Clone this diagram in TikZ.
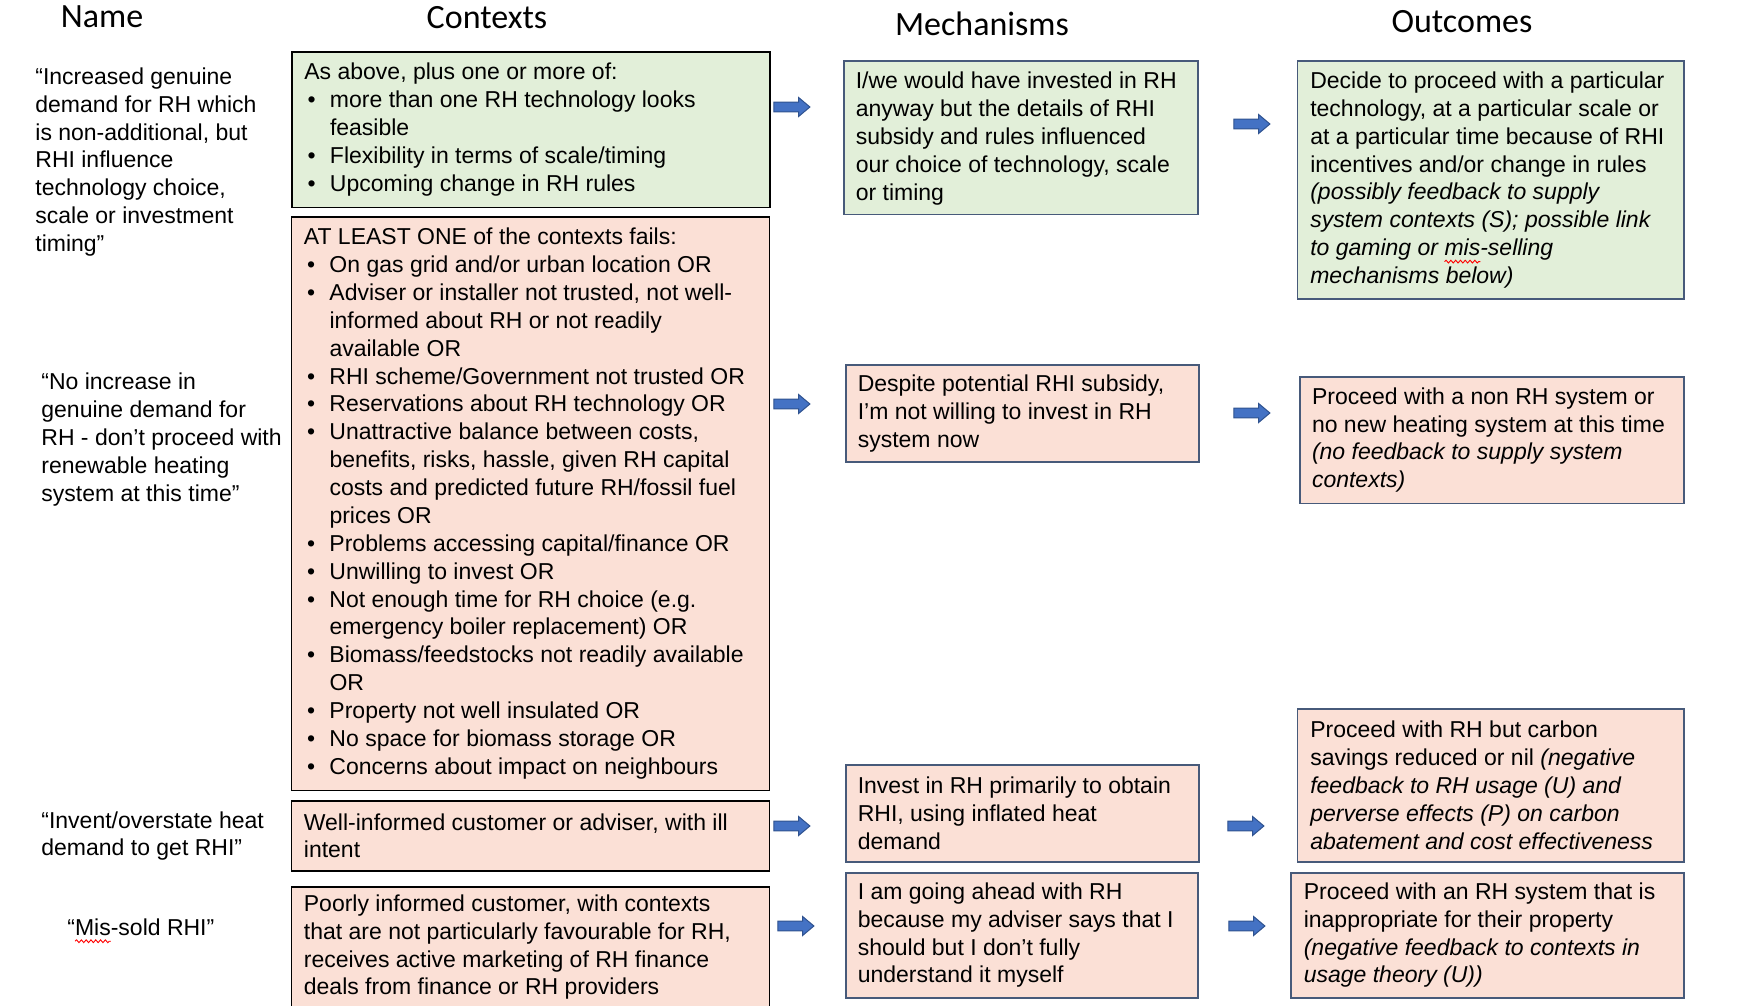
\documentclass[tikz,border=0pt]{standalone}
\usepackage{fontspec}
\setmainfont{Liberation Sans}
\newfontfamily\hdfont{Carlito}
\usetikzlibrary{shapes.arrows,decorations.pathmorphing}
\definecolor{gfill}{HTML}{E2EFD9}
\definecolor{pfill}{HTML}{FBE0D6}
\definecolor{slate}{HTML}{475A7A}
\definecolor{arrblue}{HTML}{4472C4}
\definecolor{arrdark}{HTML}{2F528F}
\newlength\wavelen
\newcommand\redwave[1]{\settowidth\wavelen{#1}\rlap{\tikz[overlay,x=1pt,y=1pt,baseline=0pt]\draw[red,line width=0.45pt,decorate,decoration={snake,amplitude=0.7pt,segment length=2.4pt}] (0pt,-3pt) -- (\wavelen,-3pt);}#1}
\newcommand\bodyfont{\fontsize{11.5}{13.93}\selectfont}
\newcommand\bl[1]{\makebox[12.8pt][l]{\hspace{1.6pt}•}#1}
\newcommand\ind{\hspace*{12.8pt}}
\tikzset{
  hd/.style={font=\hdfont\fontsize{17}{20}\selectfont, inner sep=0pt},
  boxbase/.style={anchor=north west, inner sep=0pt, line width=0.75pt},
  ctxg/.style={boxbase, draw=black, fill=gfill},
  ctxp/.style={boxbase, draw=black, fill=pfill},
  resg/.style={boxbase, draw=slate, fill=gfill},
  resp/.style={boxbase, draw=slate, fill=pfill},
  txt/.style={anchor=west, inner sep=0pt, align=left, font=\bodyfont},
  blockarr/.style={single arrow, draw=arrdark, fill=arrblue, line width=0.5pt,
    minimum height=18pt, inner xsep=0pt, inner ysep=2.2pt,
    single arrow head extend=2.3pt, single arrow head indent=0pt,
    single arrow tip angle=80}
}
\begin{document}
\begin{tikzpicture}[x=0.5pt,y=-0.5pt]
\path[use as bounding box] (0,0) rectangle (1751,1006);
\clip (0,0) rectangle (1751,1006);

% headers
\node[hd] (hname) at (102,17) {Name};
\node[hd] (hctx) at (487,18) {Contexts};
\node[hd] (hmech) at (982,24) {Mechanisms};
\node[hd] (hout) at (1462,22) {Outcomes};

% names
\node[txt] (n1) at (35,162) {“Increased genuine\\demand for RH which\\is non-additional, but\\RHI influence\\technology choice,\\scale or investment\\timing”};
\node[txt] (n2) at (41,439.5) {“No increase in\\genuine demand for\\RH - don’t proceed with\\renewable heating\\system at this time”};
\node[txt] (n3) at (41,836) {“Invent/overstate heat\\demand to get RHI”};
\node[txt] (n4) at (67,927) {“\redwave{Mis}-sold RHI”};

% context boxes
\node[ctxg, minimum width=239pt, minimum height=77.5pt] (c1) at (291,51.5) {};
\node[txt] (c1t) at ([xshift=6.5pt]c1.west) {As above, plus one or more of:\\
\bl{more than one RH technology looks}\\
\ind feasible\\
\bl{Flexibility in terms of scale/timing}\\
\bl{Upcoming change in RH rules}};

\node[ctxp, minimum width=239pt, minimum height=286.8pt] (c2) at (290.5,216) {};
\node[txt] (c2t) at ([xshift=6.5pt]c2.west) {AT LEAST ONE of the contexts fails:\\
\bl{On gas grid and/or urban location OR}\\
\bl{Adviser or installer not trusted, not well-}\\
\ind informed about RH or not readily\\
\ind available OR\\
\bl{RHI scheme/Government not trusted OR}\\
\bl{Reservations about RH technology OR}\\
\bl{Unattractive balance between costs,}\\
\ind benefits, risks, hassle, given RH capital\\
\ind costs and predicted future RH/fossil fuel\\
\ind prices OR\\
\bl{Problems accessing capital/finance OR}\\
\bl{Unwilling to invest OR}\\
\bl{Not enough time for RH choice (e.g.}\\
\ind emergency boiler replacement) OR\\
\bl{Biomass/feedstocks not readily available}\\
\ind OR\\
\bl{Property not well insulated OR}\\
\bl{No space for biomass storage OR}\\
\bl{Concerns about impact on neighbours}};

\node[ctxp, minimum width=239pt, minimum height=35pt] (c3) at (290.5,800) {};
\node[txt] (c3t) at ([xshift=6.5pt]c3.west) {Well-informed customer or adviser, with ill\\intent};

\node[ctxp, minimum width=239pt, minimum height=61pt] (c4) at (290.5,886) {};
\node[txt] (c4t) at ([xshift=6.5pt,yshift=0.3pt]c4.west) {Poorly informed customer, with contexts\\that are not particularly favourable for RH,\\receives active marketing of RH finance\\deals from finance or RH providers};

% mechanism boxes
\node[resg, minimum width=177pt, minimum height=76.5pt] (m1) at (843,60.5) {};
\node[txt] (m1t) at ([xshift=6.2pt,yshift=-0.5pt]m1.west) {I/we would have invested in RH\\anyway but the details of RHI\\subsidy and rules influenced\\our choice of technology, scale\\or timing};

\node[resp, minimum width=176.5pt, minimum height=48.5pt] (m2) at (845,364) {};
\node[txt] (m2t) at ([xshift=6.2pt]m2.west) {Despite potential RHI subsidy,\\I’m not willing to invest in RH\\system now};

\node[resp, minimum width=176.5pt, minimum height=48.5pt] (m3) at (845,764) {};
\node[txt] (m3t) at ([xshift=6.2pt]m3.west) {Invest in RH primarily to obtain\\RHI, using inflated heat\\demand};

\node[resp, minimum width=176pt, minimum height=62.5pt] (m4) at (845,872) {};
\node[txt] (m4t) at ([xshift=6.2pt]m4.west) {I am going ahead with RH\\because my adviser says that I\\should but I don’t fully\\understand it myself};

% outcome boxes
\node[resg, minimum width=193.25pt, minimum height=118.75pt] (o1) at (1296.5,60.5) {};
\node[txt] (o1t) at ([xshift=6.7pt]o1.west) {Decide to proceed with a particular\\technology, at a particular scale or\\at a particular time because of RHI\\incentives and/or change in rules\\
\textit{(possibly feedback to supply}\\
\textit{system contexts (S); possible link}\\
\textit{to gaming or \redwave{mis}-selling}\\
\textit{mechanisms below)}};

\node[resp, minimum width=192pt, minimum height=63.25pt] (o2) at (1299,376) {};
\node[txt] (o2t) at ([xshift=6.3pt]o2.west) {Proceed with a non RH system or\\no new heating system at this time\\\textit{(no feedback to supply system}\\\textit{contexts)}};

\node[resp, minimum width=193.25pt, minimum height=76.5pt] (o3) at (1296.5,708) {};
\node[txt] (o3t) at ([xshift=6.7pt]o3.west) {Proceed with RH but carbon\\savings reduced or nil \textit{(negative}\\\textit{feedback to RH usage (U) and}\\\textit{perverse effects (P) on carbon}\\\textit{abatement and cost effectiveness}};

\node[resp, minimum width=196.5pt, minimum height=62.5pt] (o4) at (1290,872) {};
\node[txt] (o4t) at ([xshift=6.7pt]o4.west) {Proceed with an RH system that is\\inappropriate for their property\\\textit{(negative feedback to contexts in}\\\textit{usage theory (U))}};

% block arrows
\node[blockarr] (a1) at (789,107) {};
\node[blockarr] (a2) at (1249,124) {};
\node[blockarr] (a3) at (789,404) {};
\node[blockarr] (a4) at (1249,413) {};
\node[blockarr] (a5) at (789,826) {};
\node[blockarr] (a6) at (1243,826) {};
\node[blockarr] (a7) at (793,926) {};
\node[blockarr] (a8) at (1244,926) {};
\end{tikzpicture}
\end{document}
